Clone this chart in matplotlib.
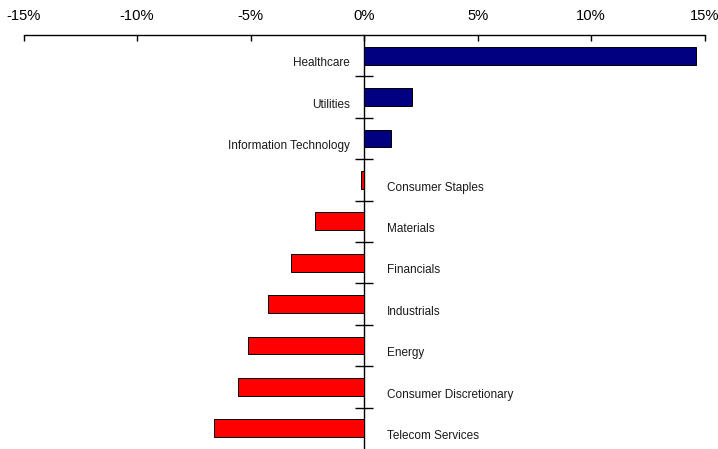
import matplotlib
matplotlib.use("Agg")
import matplotlib.pyplot as plt
from matplotlib import font_manager
from matplotlib.ticker import FuncFormatter, FixedLocator

sectors = ["Healthcare", "Utilities", "Information Technology", "Consumer Staples",
           "Materials", "Financials", "Industrials", "Energy",
           "Consumer Discretionary", "Telecom Services"]
returns = [14.6, 2.1, 1.2, -0.13, -2.15, -3.2, -4.25, -5.1, -5.55, -6.6]
xticks = [-15, -10, -5, 0, 5, 10, 15]

names = {f.name for f in font_manager.fontManager.ttflist}
narrow = 'Liberation Sans Narrow' in names
fam = ['Liberation Sans Narrow', 'DejaVu Sans'] if narrow else ['Liberation Sans', 'DejaVu Sans']
plt.rcParams['font.family'] = fam
scale = 1.0 if narrow else 0.82
tick_fs = 13 * scale
lab_fs = 10.3 * scale

fig = plt.figure(figsize=(7.18, 4.49), dpi=100)
ax = fig.add_axes([23.5 / 718, 0.0, (704.7 - 23.5) / 718, (449 - 35) / 449])

ypos = list(range(len(sectors)))
colors = ['#000080' if v >= 0 else '#FF0000' for v in returns]
ax.barh(ypos, returns, height=0.43, color=colors, edgecolor='black', linewidth=0.7, zorder=3)

ax.set_xlim(-15, 15)
ax.set_ylim(len(sectors) - 0.5, -0.5)

ax.xaxis.set_ticks_position('top')
ax.set_xticks(xticks)
ax.xaxis.set_major_formatter(FuncFormatter(lambda v, p: f"{int(v)}%"))
ax.tick_params(axis='x', direction='in', length=4.5, width=1, labelsize=tick_fs, pad=8.3, colors='black')

ax.spines['left'].set_position(('data', 0))
ax.spines['right'].set_visible(False)
ax.spines['bottom'].set_visible(False)
ax.spines['top'].set_linewidth(1)
ax.spines['left'].set_linewidth(1)
ax.set_yticks([])
ax.yaxis.set_minor_locator(FixedLocator([i + 0.5 for i in range(len(sectors) - 1)]))
ax.tick_params(axis='y', which='minor', direction='inout', length=13, width=1, labelleft=False)

for y, (name, v) in enumerate(zip(sectors, returns)):
    if v >= 0:
        ax.annotate(name, xy=(0, y), xytext=(-10.4, -7.7), textcoords='offset points',
                    ha='right', va='baseline', fontsize=lab_fs, color='#1a1a1a')
    else:
        ax.annotate(name, xy=(0, y), xytext=(16.6, -7.7), textcoords='offset points',
                    ha='left', va='baseline', fontsize=lab_fs, color='#1a1a1a')

fig.savefig("out.png", dpi=100)
